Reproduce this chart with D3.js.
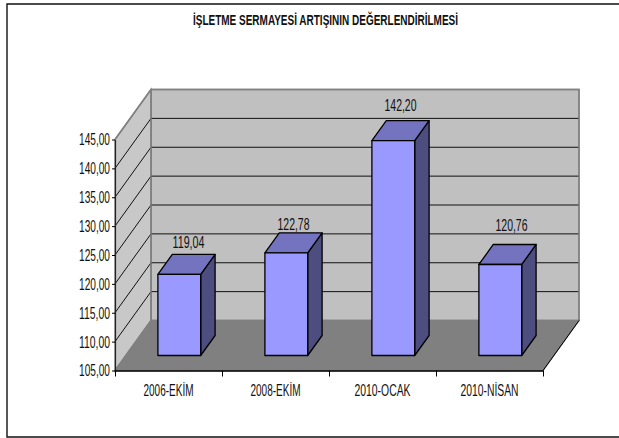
<!DOCTYPE html>
<html><head><meta charset="utf-8"><script src="https://cdn.jsdelivr.net/npm/d3@7"></script>
<style>html,body{margin:0;padding:0;background:#fff;overflow:hidden}svg{display:block}text{font-family:"Liberation Sans",Arial,sans-serif;fill:#111}</style>
</head><body><svg id="c" width="619" height="438"></svg>
<script>
const categories = ["2006-EKİM","2008-EKİM","2010-OCAK","2010-NİSAN"];
const values = [119.04,122.78,142.20,120.76];
const valueLabels = ["119,04","122,78","142,20","120,76"];
const yTicks = [105,110,115,120,125,130,135,140,145];
const chartTitle = "İŞLETME SERMAYESİ ARTIŞININ DEĞERLENDİRİLMESİ";

const svg = d3.select("#c");
const x0=115,x1=543,yB=370.5,yT=139.5,DX=36,DY=-50;
const x = d3.scaleBand().domain(categories).range([x0,x1]).paddingInner(0.6).paddingOuter(0.3);
const xEdge = d3.scaleLinear().domain([0,categories.length]).range([x0,x1]);
const y = d3.scaleLinear().domain([105,145]).range([yB,yT]);
const depthX = d3.scaleLinear().domain([0,1]).range([0,DX]);
const depthY = d3.scaleLinear().domain([0,1]).range([0,DY]);
const pts = a=>a.map(p=>p.join(",")).join(" ");
const P=(px,v,d)=>[px+depthX(d),y(v)+depthY(d)];

// chart frame: open on the right, as the reference is cropped there
svg.append("path").attr("d","M619,4H7V437H619").attr("fill","none").attr("stroke","#111").attr("stroke-width",1.4);

// walls
const wallEdge={stroke:"#808080","stroke-width":1.4};
function wall(a,fill){const p=svg.append("polygon").attr("points",pts(a)).attr("fill",fill);for(const k in wallEdge)p.attr(k,wallEdge[k]);}
wall([P(x1,145,1),P(x0,145,1),P(x0,105,1),P(x1,105,1)],"#c0c0c0");
wall([P(x0,145,0),P(x0,145,1),P(x0,105,1),P(x0,105,0)],"#c8c8c8");
wall([P(x0,105,0),P(x0,105,1),P(x1,105,1),P(x1,105,0)],"#808080");
// grid
const gridT = yTicks.slice(1,-1);
svg.selectAll(".g").data(gridT).join("polyline").attr("class","g").attr("fill","none").attr("stroke","#111")
 .attr("points",d=>pts([P(x0,d,0),P(x0,d,1),P(x1,d,1)]));
svg.append("polyline").attr("fill","none").attr("stroke","#808080").attr("stroke-width",1.4).attr("points",pts([P(x0,145,0),P(x0,145,1),P(x1,145,1),P(x1,105,1)]));
svg.append("line").attr("x1",P(x0,105,1)[0]).attr("y1",y(145)+DY).attr("x2",P(x0,105,1)[0]).attr("y2",y(105)+DY).attr("stroke","#808080").attr("stroke-width",1.4);
// floor right outline
svg.append("polyline").attr("fill","none").attr("stroke","#000").attr("points",pts([P(x1,105,0),P(x1,105,1)]));

// bars
const dF=0.3,dB=0.7;
const g=svg.selectAll(".b").data(values).join("g").attr("class","b");
const edge={stroke:"#000","stroke-width":1.3,"stroke-linejoin":"round"};
function face(sel,fill,fn){const p=sel.append("polygon").attr("points",fn).attr("fill",fill);for(const k in edge)p.attr(k,edge[k]);}
const L=(d,i)=>x(categories[i]), R=(d,i)=>x(categories[i])+x.bandwidth();
face(g,"#4d4d80",(d,i)=>pts([P(R(d,i),105,dF),P(R(d,i),105,dB),P(R(d,i),d,dB),P(R(d,i),d,dF)]));
face(g,"#7373bf",(d,i)=>pts([P(L(d,i),d,dF),P(L(d,i),d,dB),P(R(d,i),d,dB),P(R(d,i),d,dF)]));
face(g,"#9999ff",(d,i)=>pts([P(L(d,i),105,dF),P(L(d,i),d,dF),P(R(d,i),d,dF),P(R(d,i),105,dF)]));

function squeeze(sel,w){sel.attr("textLength",w).attr("lengthAdjust","spacingAndGlyphs");}
// value labels (small placement nudges as in the reference)
const labelNudgeX=[2,0,0,4], labelGap=[6,3,10,13];
svg.selectAll(".v").data(values).join("text").attr("class","v").attr("text-anchor","middle").attr("font-size",17)
 .attr("x",(d,i)=>x(categories[i])+x.bandwidth()/2+depthX(0.5)+labelNudgeX[i]).attr("y",(d,i)=>y(d)+depthY(dB)-labelGap[i]).text((d,i)=>valueLabels[i]).call(squeeze,32);

// axes
const ax=svg.append("g").attr("transform",`translate(${x0},0)`).call(d3.axisLeft(y).tickValues(yTicks).tickSize(3).tickPadding(2).tickFormat(d=>d.toFixed(2).replace(".",",")).tickSizeOuter(0));
ax.attr("font-family",null).select(".domain").attr("stroke","#222").attr("stroke-width",1.2);ax.selectAll("line").attr("stroke","#000");
ax.selectAll("text").attr("font-size",17).attr("fill","#111").call(squeeze,31);
const bx=svg.append("g").attr("transform",`translate(0,${yB})`).call(d3.axisBottom(xEdge).tickValues(d3.range(categories.length+1)).tickSize(6).tickSizeOuter(0).tickFormat(""));
bx.select(".domain").attr("stroke","#000").attr("stroke-width",1.4);bx.selectAll("line").attr("stroke","#000");
const cx=svg.append("g").attr("transform",`translate(0,${yB})`).call(d3.axisBottom(d3.scaleBand().domain(categories).range([x0,x1])).tickSize(0).tickPadding(13));
cx.attr("font-family",null).select(".domain").remove();
const catW=[50,50,56,58];
cx.selectAll("text").attr("font-size",17).attr("fill","#111").each(function(d,i){d3.select(this).call(squeeze,catW[i]);});

svg.append("text").attr("x",325.5).attr("y",25).attr("text-anchor","middle").attr("font-size",15).attr("font-weight","bold").text(chartTitle).call(squeeze,265);
</script></body></html>
